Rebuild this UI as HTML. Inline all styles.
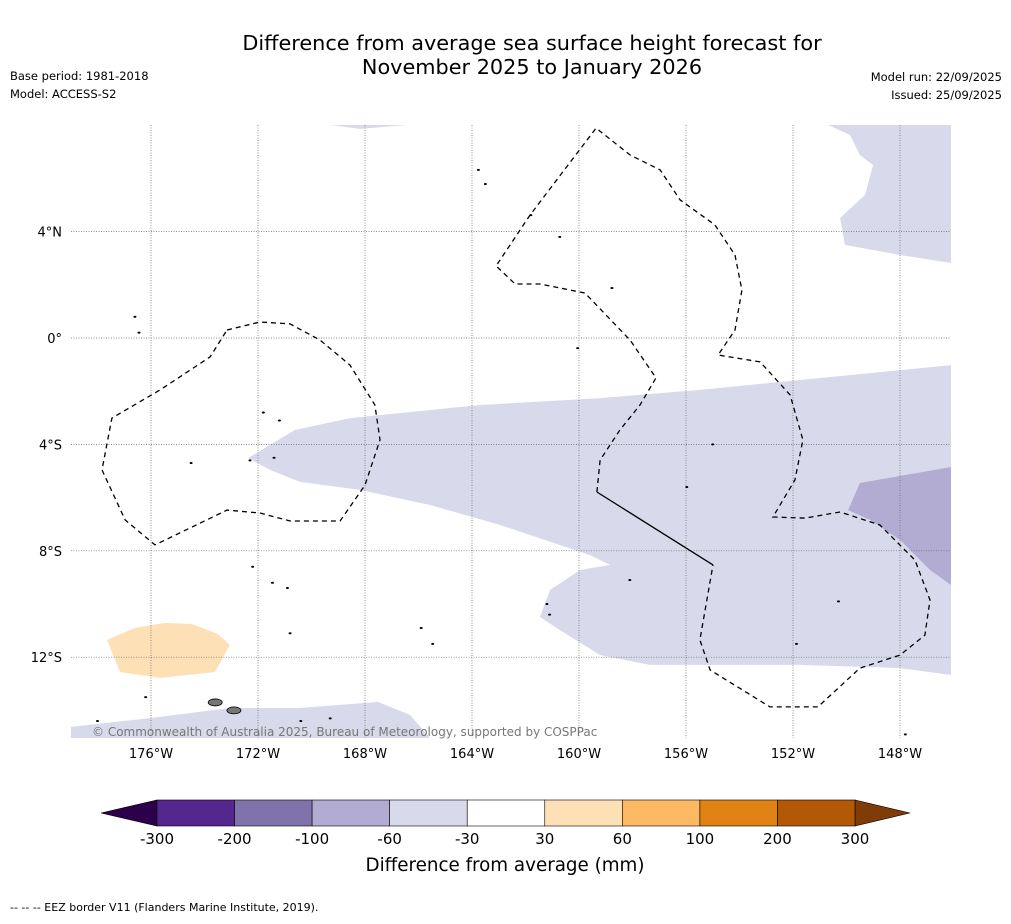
<!DOCTYPE html>
<html><head><meta charset="utf-8">
<style>
body{margin:0;background:#fff;width:1011px;height:919px;overflow:hidden;font-family:"Liberation Sans","DejaVu Sans",sans-serif;}
svg text{font-family:"DejaVu Sans","Liberation Sans",sans-serif;}
</style></head>
<body>
<svg id="c" width="1011" height="919" xmlns="http://www.w3.org/2000/svg">
<rect width="1011" height="919" fill="#fff"/>
<text x="532" y="50" text-anchor="middle" font-size="20.8">Difference from average sea surface height forecast for</text>
<text x="532" y="74" text-anchor="middle" font-size="20.8">November 2025 to January 2026</text>
<text x="10" y="80" font-size="11.5">Base period: 1981-2018</text>
<text x="10" y="98" font-size="11.5">Model: ACCESS-S2</text>
<text x="1002" y="81" text-anchor="end" font-size="11.5">Model run: 22/09/2025</text>
<text x="1002" y="99" text-anchor="end" font-size="11.5">Issued: 25/09/2025</text>
<g id="map"></g>
<g id="cbar"></g>
<text x="505" y="871" text-anchor="middle" font-size="18.3">Difference from average (mm)</text>
<text x="10" y="911" font-size="11">--  --  -- EEZ border V11 (Flanders Marine Institute, 2019).</text>
</svg>
<script>
const NS="http://www.w3.org/2000/svg";
// lon in degrees West, lat in degrees (negative = South)
const lonTicks=[176,172,168,164,160,156,152,148];
const latTicks=[4,0,-4,-8,-12];
const anomalyBand=[[172.37,-4.51],[170.62,-3.46],[168.56,-3.01],[163.7,-2.52],[159.21,-2.26],[155.48,-1.95],[151.74,-1.58],[146.09,-1.02],[146.09,-12.67],[148.0,-12.41],[151.74,-12.29],[157.35,-12.29],[159.21,-11.92],[160.71,-10.98],[161.46,-10.49],[161.08,-9.47],[159.96,-8.72],[158.84,-8.53],[159.59,-8.16],[162.95,-7.03],[165.57,-6.28],[168.19,-5.71],[170.43,-5.41],[171.55,-4.96]];
const anomalyDeep=[[149.5,-5.45],[146.09,-4.85],[146.09,-9.29],[146.88,-8.72],[148.0,-7.59],[149.12,-6.84],[149.94,-6.47]];
const anomalyNE=[[150.69,8.01],[149.87,7.63],[149.5,6.88],[149.01,6.5],[149.31,5.38],[150.24,4.51],[150.06,3.5],[148.0,3.12],[146.09,2.82],[146.09,8.01]];
const anomalyTop=[[169.31,8.01],[168.19,7.86],[166.39,8.01]];
const anomalySW=[[178.99,-14.62],[176.04,-14.29],[173.05,-13.91],[170.43,-13.91],[167.51,-13.68],[166.32,-14.17],[165.57,-15.04],[178.99,-15.04]];
const anomalyPos=[[177.64,-11.35],[176.6,-10.9],[175.48,-10.71],[174.47,-10.75],[173.5,-11.13],[173.05,-11.54],[173.61,-12.56],[175.66,-12.78],[177.16,-12.56]];
const eezWest=[[173.16,0.3],[171.93,0.6],[170.8,0.53],[169.68,-0.08],[168.56,-1.02],[167.63,-2.52],[167.44,-3.83],[168.0,-5.53],[168.93,-6.88],[170.8,-6.88],[171.93,-6.58],[173.16,-6.47],[175.85,-7.78],[176.97,-6.84],[177.83,-4.96],[177.46,-3.01],[175.66,-1.95],[173.79,-0.71],[173.16,0.3]];
const eezEast=[[159.33,-5.79],[159.21,-4.59],[158.47,-3.46],[157.72,-2.52],[157.12,-1.5],[158.09,-0.08],[159.78,1.69],[161.46,2.03],[162.39,2.03],[163.1,2.71],[161.83,4.62],[159.36,7.89],[158.09,6.88],[156.97,6.32],[156.22,5.19],[154.92,4.25],[154.17,3.12],[153.91,1.8],[154.17,0.3],[154.8,-0.64],[153.23,-0.9],[152.11,-2.14],[151.63,-3.83],[151.93,-5.34],[152.75,-6.73],[151.55,-6.77],[150.24,-6.54],[148.75,-7.03],[147.44,-8.35],[146.88,-9.85],[147.07,-11.17],[148.0,-11.92],[149.5,-12.41],[151.07,-13.87],[152.86,-13.87],[155.1,-12.48],[155.48,-11.35],[154.99,-8.53]];
const eezSolid=[[159.33,-5.79],[154.99,-8.53]];
const islands=[[163.76,6.32],[163.5,5.79],[161.8,4.62],[160.72,3.8],[158.77,1.88],[160.05,-0.38],[155.0,-4.0],[155.97,-5.6],[158.1,-9.1],[161.1,-10.4],[161.2,-10.0],[150.3,-9.9],[151.87,-11.5],[165.9,-10.9],[165.47,-11.5],[172.2,-8.6],[171.46,-9.2],[170.9,-9.4],[170.8,-11.1],[174.5,-4.7],[171.8,-2.8],[171.2,-3.1],[171.4,-4.5],[172.3,-4.6],[176.2,-13.5],[178.0,-14.4],[170.4,-14.4],[169.3,-14.3],[147.8,-14.9],[145.8,-14.5],[176.6,0.8],[176.45,0.2]];
const samoa=[[173.6,-13.7],[172.9,-14.0]];
const cbBounds=["-300","-200","-100","-60","-30","30","60","100","200","300"];
const cbColors=["#54278f","#8073ac","#b2abd2","#d8daeb","#ffffff","#fee0b6","#fdb863","#e08214","#b35806"];

const X0=71,X1=951,Y0=125,Y1=738;
function X(lw){return 151+(176-lw)*26.75;}
function Y(lat){return 338-lat*26.6;}
function pts(a){return a.map(p=>X(p[0]).toFixed(1)+","+Y(p[1]).toFixed(1)).join(" ");}
const map=document.getElementById("map");
function mk(tag,attrs,parent){const e=document.createElementNS(NS,tag);for(const k in attrs)e.setAttribute(k,attrs[k]);(parent||map).appendChild(e);return e;}
const defs=mk("defs",{});
const cp=mk("clipPath",{id:"clip"},defs);mk("rect",{x:X0,y:Y0,width:X1-X0,height:Y1-Y0},cp);
const g=mk("g",{"clip-path":"url(#clip)"});
function poly(a,fill,name){const e=mk("polygon",{points:pts(a),fill:fill},g);

}
poly(anomalyBand,"#d8daeb","anomaly-band-minus30-60");
poly(anomalyDeep,"#b2abd2","anomaly-region-minus60-100");
poly(anomalyNE,"#d8daeb","anomaly-region-northeast");
poly(anomalyTop,"#d8daeb","anomaly-region-top");
poly(anomalySW,"#d8daeb","anomaly-region-southwest");
poly(anomalyPos,"#fee0b6","anomaly-region-positive");
lonTicks.forEach(l=>{const e=mk("line",{x1:X(l),x2:X(l),y1:Y0,y2:Y1,stroke:"#666","stroke-width":0.7,"stroke-dasharray":"1,1.5"},g);


const t=mk("text",{x:X(l),y:758,"text-anchor":"middle","font-size":13});t.textContent=l+"°W";

});
latTicks.forEach(l=>{const e=mk("line",{x1:X0,x2:X1,y1:Y(l),y2:Y(l),stroke:"#666","stroke-width":0.7,"stroke-dasharray":"1,1.5"},g);


const t=mk("text",{x:62,y:Y(l)+5,"text-anchor":"end","font-size":13});t.textContent=l===0?"0°":Math.abs(l)+"°"+(l>0?"N":"S");

});
function line(a,dash,name){const e=mk("polyline",{points:pts(a),fill:"none",stroke:"#000","stroke-width":1.3,"stroke-dasharray":dash},g);

}
line(eezWest,"5,4","eez-border-west");
line(eezEast,"5,4","eez-border-east");
line(eezSolid,"none","eez-border-segment");
islands.forEach(p=>{const e=mk("ellipse",{cx:X(p[0]),cy:Y(p[1]),rx:1.5,ry:1,fill:"#000"},g);

});
samoa.forEach(p=>{const e=mk("ellipse",{cx:X(p[0]),cy:Y(p[1]),rx:7,ry:3.5,fill:"#777",stroke:"#000","stroke-width":0.8},g);

});
const cr=mk("text",{x:92,y:736,"font-size":12,fill:"#777"});cr.textContent="© Commonwealth of Australia 2025, Bureau of Meteorology, supported by COSPPac";


// colorbar
const cb=document.getElementById("cbar");
const cx0=157,cx1=855,cy=800,ch=26,w=(cx1-cx0)/cbColors.length;
const lt=mk("polygon",{points:`101,${cy+ch/2} ${cx0},${cy} ${cx0},${cy+ch}`,fill:"#2d004b",stroke:"#000","stroke-width":0.6},cb);


const rt=mk("polygon",{points:`910,${cy+ch/2} ${cx1},${cy} ${cx1},${cy+ch}`,fill:"#7f3b08",stroke:"#000","stroke-width":0.6},cb);


cbColors.forEach((c,i)=>{const r=mk("rect",{x:cx0+i*w,y:cy,width:w,height:ch,fill:c,stroke:"#000","stroke-width":0.6},cb);

});
cbBounds.forEach((b,i)=>{const t=mk("text",{x:cx0+i*w,y:844,"text-anchor":"middle","font-size":15},cb);t.textContent=b;

});
</script>
</body></html>
